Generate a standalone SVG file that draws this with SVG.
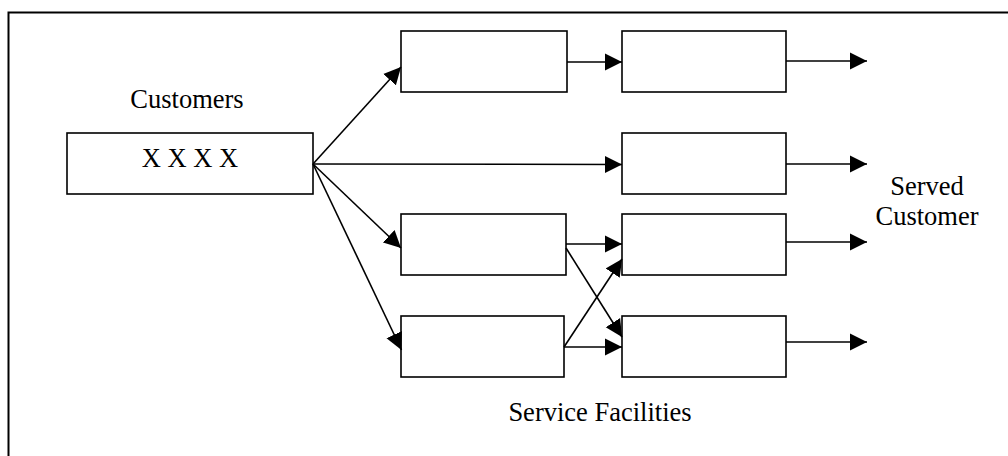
<svg xmlns="http://www.w3.org/2000/svg" width="1008" height="456" viewBox="0 0 1008 456">
<style>
.box{fill:#fff;stroke:#000;stroke-width:1.6}
.ln{fill:none;stroke:#000;stroke-width:1.6;marker-end:url(#ah)}
text{font-size:26.5px;fill:#000;text-anchor:middle}
</style>
<defs>
<marker id="ah" markerUnits="userSpaceOnUse" markerWidth="18" markerHeight="18" refX="17" refY="9" orient="auto" viewBox="0 0 18 18">
<path d="M0,0.5 L17,9 L0,17.5 Z" fill="#000"/>
</marker>
</defs>
<rect width="1008" height="456" fill="#fff"/>
<g id="frame">
<path d="M8.5,456 L8.5,12.5 L1008,12.5" fill="none" stroke="#000" stroke-width="2"/>
</g>
<g id="customers" font-family="Liberation Serif, Times New Roman, serif">
<text x="187" y="108">Customers</text>
<rect class="box" x="67" y="133" width="246" height="61"/>
<text x="190" y="167">X X X X</text>
</g>
<g id="s1a"><rect class="box" x="401" y="31" width="166" height="61"/></g>
<g id="s1b"><rect class="box" x="622" y="31" width="164" height="61"/></g>
<g id="s2b"><rect class="box" x="622" y="133" width="164" height="61"/></g>
<g id="s3a"><rect class="box" x="401" y="214" width="165" height="61"/></g>
<g id="s3b"><rect class="box" x="622" y="214" width="164" height="61"/></g>
<g id="s4a"><rect class="box" x="401" y="316" width="163" height="61"/></g>
<g id="s4b"><rect class="box" x="622" y="316" width="164" height="61"/></g>
<g id="labels" font-family="Liberation Serif, Times New Roman, serif">
<text x="927" y="195">Served</text>
<text x="927" y="225">Customer</text>
<text x="600" y="421">Service Facilities</text>
</g>
<g id="connectors">
<line class="ln" x1="313" y1="164" x2="401" y2="67"/>
<line class="ln" x1="313" y1="164" x2="622" y2="164.5"/>
<line class="ln" x1="313" y1="164" x2="401" y2="248"/>
<line class="ln" x1="313" y1="164" x2="401.5" y2="350"/>
<line class="ln" x1="567" y1="62" x2="622" y2="62"/>
<line class="ln" x1="566" y1="244" x2="622" y2="244"/>
<line class="ln" x1="566" y1="248" x2="622" y2="337"/>
<line class="ln" x1="564" y1="347" x2="622" y2="347"/>
<line class="ln" x1="564" y1="347" x2="622" y2="259"/>
<line class="ln" x1="786" y1="61" x2="867" y2="61"/>
<line class="ln" x1="786" y1="164" x2="867" y2="164"/>
<line class="ln" x1="786" y1="242" x2="867" y2="242"/>
<line class="ln" x1="786" y1="342" x2="867" y2="342"/>
</g>
</svg>
